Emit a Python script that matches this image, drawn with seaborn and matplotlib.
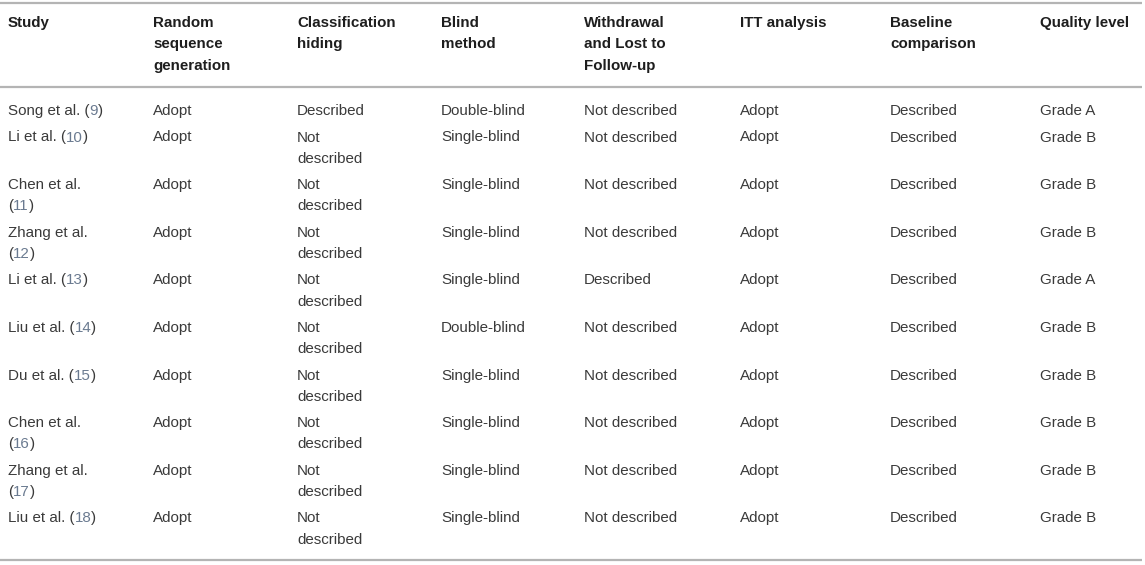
import matplotlib
matplotlib.use("Agg")
import matplotlib.pyplot as plt
import seaborn as sns

# ---------------------------
# table content
# ---------------------------
headers = ["Study", "Random\nsequence\ngeneration", "Classification\nhiding",
           "Blind\nmethod", "Withdrawal\nand Lost to\nFollow-up", "ITT analysis",
           "Baseline\ncomparison", "Quality level"]

study_names = ["Song et al.", "Li et al.", "Chen et al.", "Zhang et al.", "Li et al.",
               "Liu et al.", "Du et al.", "Chen et al.", "Zhang et al.", "Liu et al."]
study_refs = ["9", "10", "11", "12", "13", "14", "15", "16", "17", "18"]
study_wrap = [False, False, True, True, False, False, False, True, True, False]

random_seq = ["Adopt"] * 10
class_hiding = ["Described"] + ["Not\ndescribed"] * 9
blind = ["Double-blind", "Single-blind", "Single-blind", "Single-blind", "Single-blind",
         "Double-blind", "Single-blind", "Single-blind", "Single-blind", "Single-blind"]
withdrawal = ["Not described", "Not described", "Not described", "Not described", "Described",
              "Not described", "Not described", "Not described", "Not described", "Not described"]
itt = ["Adopt"] * 10
baseline = ["Described"] * 10
quality = ["Grade A", "Grade B", "Grade B", "Grade B", "Grade A",
           "Grade B", "Grade B", "Grade B", "Grade B", "Grade B"]

# ---------------------------
# layout
# ---------------------------
W, H = 1145, 565
col_x = [8, 153, 297, 441, 584, 740, 890, 1040]
line_h = 21.3
fs = 10.9
txt_col = "#3a3a3a"
ref_col = "#6a7a90"
rule_col = "#b4b4b4"

sns.set_theme(style="white")
plt.rcParams["font.family"] = ["Liberation Sans", "DejaVu Sans"]

fig = plt.figure(figsize=(W / 100, H / 100), dpi=100)
ax = fig.add_axes([0, 0, 1, 1])
ax.set_xlim(0, W)
ax.set_ylim(H, 0)
ax.axis("off")


def cell(x, y, s, **kw):
    # one text per line so every first line sits on the same baseline
    lines = s.split("\n")
    for k, ln in enumerate(lines):
        ax.text(x, y + k * line_h, ln, fontsize=fs, va="baseline", ha="left", **kw)
    return len(lines)


# rules
for y in [3, 87, 560]:
    ax.plot([0, 1142], [y, y], color=rule_col, lw=1.6, solid_capstyle="butt")

# header
for x, h in zip(col_x, headers):
    cell(x, 27, h, fontweight="bold", color="#1e1e1e")


def study_cell(x, y, name, ref, wrap):
    if wrap:
        ax.text(x, y, name, fontsize=fs, color=txt_col, va="baseline")
        t = ax.text(x, y + line_h, "(", fontsize=fs, color=txt_col, va="baseline")
    else:
        t = ax.text(x, y, name + " (", fontsize=fs, color=txt_col, va="baseline")
    t2 = ax.annotate(ref, xy=(1, 0), xycoords=t, fontsize=fs, color=ref_col,
                     va="bottom", ha="left")
    ax.annotate(")", xy=(1, 0), xycoords=t2, fontsize=fs, color=txt_col,
                va="bottom", ha="left")


cols = [random_seq, class_hiding, blind, withdrawal, itt, baseline, quality]
y = 115
for i in range(len(study_names)):
    study_cell(col_x[0], y, study_names[i], study_refs[i], study_wrap[i])
    nlines = 2 if study_wrap[i] else 1
    for x, col in zip(col_x[1:], cols):
        nlines = max(nlines, cell(x, y, col[i], color=txt_col))
    y += (26.5 if nlines == 1 else 47.6)

fig.savefig("out.png", dpi=100)
